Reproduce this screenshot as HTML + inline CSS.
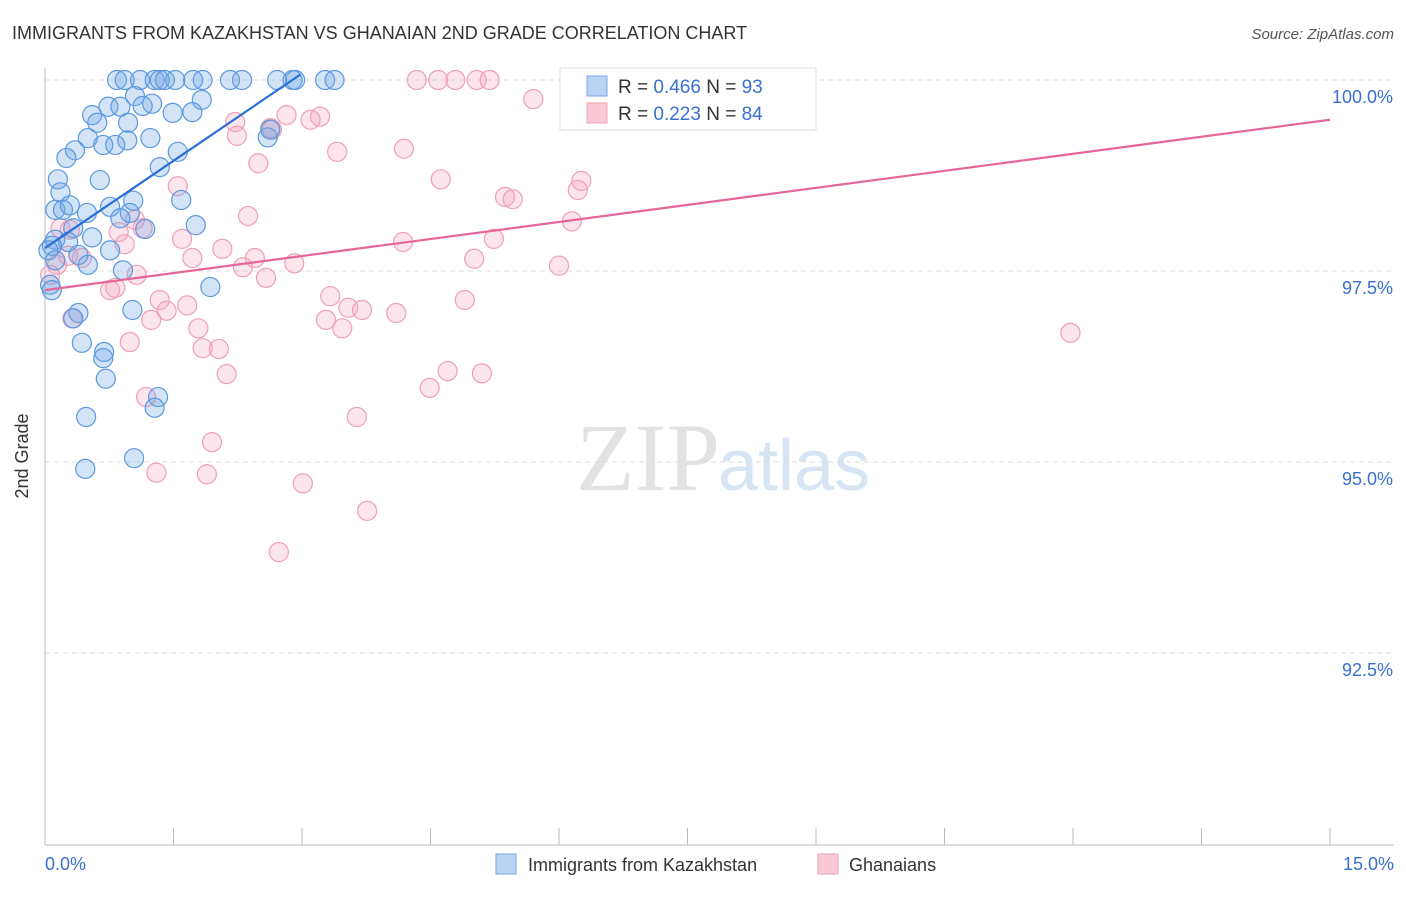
<!DOCTYPE html>
<html><head><meta charset="utf-8"><style>
body{margin:0;background:#fff;font-family:"Liberation Sans",sans-serif;}
</style></head><body>
<svg width="1406" height="892" xmlns="http://www.w3.org/2000/svg">
<text x="12" y="39" font-size="18" fill="#333">IMMIGRANTS FROM KAZAKHSTAN VS GHANAIAN 2ND GRADE CORRELATION CHART</text>
<text x="1394" y="39" font-size="15" fill="#555" text-anchor="end" font-style="italic">Source: ZipAtlas.com</text>
<text x="720" y="490" font-size="96" fill="#e2e2e2" text-anchor="end" font-family="Liberation Serif,serif">ZIP</text>
<text x="718" y="490" font-size="72" fill="#d6e4f4">atlas</text>
<g id="grid"></g>
<line x1="45" y1="68" x2="45" y2="845" stroke="#bbb"/>
<line x1="45" y1="845" x2="1394" y2="845" stroke="#bbb"/>
<g id="xticks"></g>
<text x="28" y="456" font-size="18" fill="#333" text-anchor="middle" transform="rotate(-90 28 456)">2nd Grade</text>
<text x="45" y="870" font-size="18" fill="#3a6fd0">0.0%</text>
<text x="1394" y="870" font-size="18" fill="#3a6fd0" text-anchor="end">15.0%</text>
<g id="pink"></g><g id="blue"></g><g id="trends"></g>
<g>
<rect x="560" y="68" width="256" height="62" fill="#fff" stroke="#ddd"/>
<rect x="587" y="76" width="20" height="20" fill="#b9d3f3" stroke="#7aa9e3"/>
<rect x="587" y="103" width="20" height="20" fill="#f9c9d7" stroke="#f0a0b8"/>
<text x="618" y="93" font-size="19" fill="#333">R = <tspan fill="#3a6fd0">0.466</tspan>   N = <tspan fill="#3a6fd0">93</tspan></text>
<text x="618" y="120" font-size="19" fill="#333">R = <tspan fill="#3a6fd0"> 0.223</tspan>   N = <tspan fill="#3a6fd0">84</tspan></text>
</g>
<g>
<rect x="496" y="854" width="20" height="20" fill="#b9d3f3" stroke="#7aa9e3"/>
<text x="528" y="871" font-size="18" fill="#333">Immigrants from Kazakhstan</text>
<rect x="818" y="854" width="20" height="20" fill="#f9c9d7" stroke="#f0a0b8"/>
<text x="849" y="871" font-size="18" fill="#333">Ghanaians</text>
</g>
</svg>
<script>
const yTicks=[100,97.5,95,92.5];
const yTickLabels=["100.0%","97.5%","95.0%","92.5%"];
const xTicks=[0,1.5,3,4.5,6,7.5,9,10.5,12,13.5,15];
const blueX=[0.84,0.93,1.11,1.28,1.34,1.40,1.52,1.73,1.84,2.16,2.30,2.71,2.89,2.92,3.27,3.38,1.05,0.74,0.88,1.25,1.83,1.14,1.72,1.49,0.55,0.61,0.97,0.50,0.68,0.82,0.96,1.23,1.55,0.35,0.25,1.34,0.64,0.15,0.18,1.59,1.03,0.76,0.12,0.21,0.29,0.49,0.99,0.88,0.33,1.17,1.76,0.12,0.27,0.08,0.04,0.76,0.55,0.39,0.50,0.91,0.06,0.08,1.93,1.02,0.39,0.33,0.43,0.69,0.68,0.71,1.32,1.28,0.48,1.04,0.47,2.60,2.63,0.12];
const blueY=[100,100,100,100,100,100,100,100,100,100,100,100,100,100,100,100,99.79,99.65,99.65,99.69,99.74,99.66,99.58,99.57,99.54,99.44,99.44,99.24,99.15,99.15,99.21,99.24,99.06,99.08,98.98,98.86,98.69,98.70,98.53,98.43,98.42,98.34,98.30,98.30,98.36,98.26,98.26,98.19,98.06,98.05,98.10,97.91,97.88,97.83,97.77,97.77,97.94,97.71,97.58,97.51,97.32,97.25,97.29,96.99,96.95,96.88,96.56,96.44,96.36,96.09,95.85,95.71,95.59,95.05,94.91,99.25,99.35,97.64];
const pinkX=[4.34,4.59,4.79,5.04,5.19,7.21,5.70,3.10,3.21,2.82,2.22,2.24,2.63,2.65,2.49,3.41,4.19,4.62,5.37,5.46,6.22,6.26,1.55,2.37,6.15,1.05,0.86,0.18,0.29,1.14,0.93,1.60,2.07,4.18,5.24,2.45,2.31,2.91,5.01,6.00,1.72,2.58,1.07,0.76,0.82,0.14,0.06,3.33,1.34,1.66,3.54,3.70,1.42,4.10,4.90,1.24,3.28,3.47,0.32,1.79,0.99,1.84,2.03,2.12,4.70,5.10,4.49,1.18,3.64,1.95,1.30,1.89,3.01,3.76,2.73,11.97,0.43,0.27];
const pinkY=[100,100,100,100,100,100,99.75,99.48,99.52,99.54,99.45,99.27,99.37,99.35,98.91,99.06,99.10,98.70,98.47,98.44,98.56,98.68,98.61,98.22,98.15,98.17,98.01,98.06,98.04,98.06,97.85,97.92,97.79,97.88,97.92,97.67,97.55,97.60,97.66,97.57,97.67,97.41,97.45,97.25,97.28,97.58,97.45,97.17,97.12,97.05,97.02,96.99,96.98,96.95,97.12,96.86,96.86,96.75,96.88,96.75,96.57,96.49,96.48,96.15,96.19,96.16,95.97,95.85,95.59,95.26,94.86,94.84,94.72,94.36,93.82,96.69,97.67,97.70];
const blueTrendX=[0,2.98];
const blueTrendY=[97.80,100.07];
const pinkTrendX=[0,15];
const pinkTrendY=[97.25,99.48];
const NS="http://www.w3.org/2000/svg";
const sx=v=>45+v/15*1285;
const sy=v=>80+(100-v)/2.5*191;
function mk(tag,at,parent){const e=document.createElementNS(NS,tag);for(const k in at)e.setAttribute(k,at[k]);document.getElementById(parent).appendChild(e);return e;}
yTicks.forEach((t,i)=>{
  const l=mk('line',{x1:45,x2:1394,y1:sy(t),y2:sy(t),stroke:'#ddd','stroke-dasharray':'5,4'},'grid');
  
  
  const tx=mk('text',{x:1393,y:sy(t)+23,'font-size':18,fill:'#3a6fd0','text-anchor':'end'},'grid');
  tx.textContent=yTickLabels[i];
  
  
});
xTicks.forEach(t=>{
  const l=mk('line',{x1:sx(t),x2:sx(t),y1:828,y2:845,stroke:'#bbb'},'xticks');
  
  
});
pinkX.forEach((x,i)=>{
  const c=mk('circle',{cx:sx(x),cy:sy(pinkY[i]),r:9.5,fill:'rgba(244,160,188,0.28)',stroke:'#ef9fb8','stroke-width':1.2},'pink');
  
  
});
blueX.forEach((x,i)=>{
  const c=mk('circle',{cx:sx(x),cy:sy(blueY[i]),r:9.5,fill:'rgba(110,165,230,0.3)',stroke:'#5c98de','stroke-width':1.2},'blue');
  
  
});
const bt=mk('line',{x1:sx(blueTrendX[0]),y1:sy(blueTrendY[0]),x2:sx(blueTrendX[1]),y2:sy(blueTrendY[1]),stroke:'#2a6fd6','stroke-width':2.2},'trends');


const pt=mk('line',{x1:sx(pinkTrendX[0]),y1:sy(pinkTrendY[0]),x2:sx(pinkTrendX[1]),y2:sy(pinkTrendY[1]),stroke:'#e8659a','stroke-width':2.2},'trends');


</script>
</body></html>
